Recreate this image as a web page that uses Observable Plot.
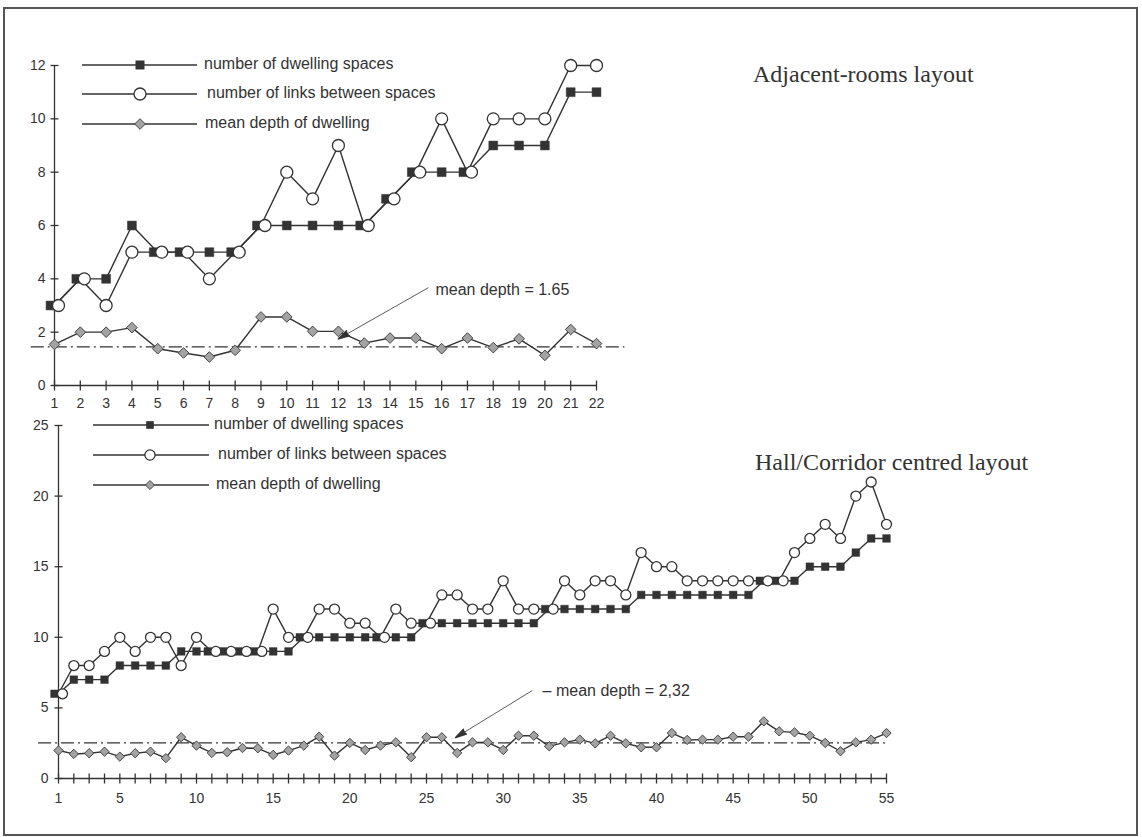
<!DOCTYPE html>
<html>
<head>
<meta charset="utf-8">
<script src="https://cdn.jsdelivr.net/npm/d3@7"></script>
<script src="https://cdn.jsdelivr.net/npm/@observablehq/plot@0.6"></script>
<style>
  body { margin: 0; background: #fff; }
  #page { position: relative; width: 1142px; height: 837px; overflow: hidden;
          font-family: "Liberation Sans", Arial, sans-serif; color: #333; background: #fff; }
  #frame { position: absolute; left: 3px; top: 7px; width: 1135px; height: 829px;
           box-sizing: border-box; border: 2px solid #555; }
  .plot { position: absolute; left: 0; }
  .title { position: absolute; font-family: "Liberation Serif", "Times New Roman", serif;
           font-size: 24px; line-height: 28px; color: #333; white-space: nowrap; }
  .lg { position: absolute; height: 20px; }
  .lgtext { position: absolute; font-size: 16px; line-height: 20px; white-space: nowrap; color: #333; }
</style>
</head>
<body>
<div id="page">
  <div id="frame"></div>
</div>
<script>
// ---------------- data ----------------
const topHouse = [1,2,3,4,5,6,7,8,9,10,11,12,13,14,15,16,17,18,19,20,21,22];
const topSpaces = [3,4,4,6,5,5,5,5,6,6,6,6,6,7,8,8,8,9,9,9,11,11];
const topLinks  = [3,4,3,5,5,5,4,5,6,8,7,9,6,7,8,10,8,10,10,10,12,12];
const topDepth  = [1.54,2.0,2.0,2.17,1.38,1.22,1.07,1.32,2.57,2.57,2.03,2.03,1.59,1.78,1.78,1.38,1.78,1.42,1.75,1.13,2.1,1.57];
const topMeanLine = 1.45;
const topYTicks = [0,2,4,6,8,10,12];
const topXLabels = topHouse;

const botHouse = [1,2,3,4,5,6,7,8,9,10,11,12,13,14,15,16,17,18,19,20,21,22,23,24,25,26,27,28,29,30,
                  31,32,33,34,35,36,37,38,39,40,41,42,43,44,45,46,47,48,49,50,51,52,53,54,55];
const botSpaces = [6,7,7,7,8,8,8,8,9,9,9,9,9,9,9,9,10,10,10,10,10,10,10,10,11,11,11,11,11,11,
                   11,11,12,12,12,12,12,12,13,13,13,13,13,13,13,13,14,14,14,15,15,15,16,17,17];
const botLinks  = [6,8,8,9,10,9,10,10,8,10,9,9,9,9,12,10,10,12,12,11,11,10,12,11,11,13,13,12,12,14,
                   12,12,12,14,13,14,14,13,16,15,15,14,14,14,14,14,14,14,16,17,18,17,20,21,18];
const botDepth  = [1.98,1.74,1.79,1.9,1.55,1.79,1.9,1.44,2.92,2.33,1.81,1.86,2.16,2.14,1.67,1.98,2.33,2.96,1.62,2.52,
                   2.02,2.33,2.56,1.51,2.92,2.92,1.81,2.56,2.56,2.02,3.03,3.03,2.28,2.56,2.75,2.49,3.03,2.49,2.21,2.21,
                   3.22,2.73,2.75,2.75,2.96,2.96,4.05,3.34,3.27,3.03,2.52,1.93,2.56,2.75,3.22];
const botMeanLine = 2.53;
const botYTicks = [0,5,10,15,20,25];
const botXLabels = [1,5,10,15,20,25,30,35,40,45,50,55];

const legendLabels = ["number of dwelling spaces", "number of links between spaces", "mean depth of dwelling"];
const titles = ["Adjacent-rooms layout", "Hall/Corridor centred layout"];

// annotations (arrow from label to the mean line)
const topNote = [{label: "mean depth = 1.65", tx: 15.76, ty: 3.6, x1: 15.49, y1: 3.67, x2: 12.0, y2: 1.75, rot: 240}];
const botNote = [{label: "– mean depth = 2,32", tx: 32.57, ty: 6.23, x1: 31.9, y1: 6.23, x2: 26.9, y2: 2.9, rot: 238}];

// ---------------- drawing ----------------
const ink = "#333";
const vline = {draw(ctx, size) { const r = Math.sqrt(size / Math.PI); ctx.moveTo(0, -r); ctx.lineTo(0, r); }};
const hline = {draw(ctx, size) { const r = Math.sqrt(size / Math.PI); ctx.moveTo(-r, 0); ctx.lineTo(r, 0); }};

function chart(c) {
  const data = c.house.map((x, i) => ({x, spaces: c.spaces[i], links: c.links[i], depth: c.depth[i]}));
  const same = data.filter(d => d.spaces === d.links);
  const diff = data.filter(d => d.spaces !== d.links);
  const last = c.house[c.house.length - 1];
  return Plot.plot({
    width: c.width, height: c.height,
    marginLeft: c.ml, marginRight: c.mr, marginTop: c.mt, marginBottom: c.mb,
    style: {fontFamily: '"Liberation Sans", Arial, sans-serif', fontSize: "14px", color: ink,
            background: "transparent", overflow: "visible"},
    x: {domain: [1, last], ticks: c.xLabels, tickSize: 0, tickPadding: c.xPad, label: null},
    y: {domain: [0, c.yTicks[c.yTicks.length - 1]], ticks: c.yTicks, tickSize: 0, tickPadding: c.yPad, label: null},
    marks: [
      Plot.ruleY([c.mean], {x1: c.meanX[0], x2: c.meanX[1], stroke: ink, strokeWidth: 1.3, strokeDasharray: "13,4,2,4"}),
      Plot.ruleX([1], {y1: 0, y2: c.yTicks[c.yTicks.length - 1], stroke: ink, strokeWidth: 1.3}),
      Plot.ruleY([0], {x1: 1, x2: last, stroke: ink, strokeWidth: 1.3}),
      Plot.dot(c.house, {x: d => d, y: 0, symbol: vline, r: 5, stroke: ink, fill: "none", strokeWidth: 1.3}),
      Plot.dot(c.yTicks, {x: 1, y: d => d, symbol: hline, r: 4, stroke: ink, fill: "none", strokeWidth: 1.3}),
      Plot.link(c.note, {x1: "x1", y1: "y1", x2: "x2", y2: "y2", stroke: ink, strokeWidth: 0.8}),
      Plot.vector(c.note, {x: "x2", y: "y2", rotate: "rot", length: 11, anchor: "end", shape: "spike", r: 2.8, fill: ink, stroke: ink}),
      Plot.text(c.note, {x: "tx", y: "ty", text: "label", textAnchor: "start", fontSize: 16, fill: ink}),
      Plot.line(data, {x: "x", y: "depth", stroke: ink, strokeWidth: 1.4}),
      Plot.line(data, {x: "x", y: "spaces", stroke: ink, strokeWidth: 1.4}),
      Plot.line(data, {x: "x", y: "links", stroke: ink, strokeWidth: 1.4}),
      Plot.dot(data, {x: "x", y: "depth", symbol: "diamond2", r: c.rd, fill: "#a3a3a3", stroke: "#444", strokeWidth: 1}),
      Plot.dot(diff, {x: "x", y: "spaces", symbol: "square", r: c.rs, fill: ink, stroke: ink, strokeWidth: 0.5}),
      Plot.dot(same, {x: "x", y: "spaces", symbol: "square", r: c.rs, fill: ink, stroke: ink, strokeWidth: 0.5, dx: -c.off}),
      Plot.dot(diff, {x: "x", y: "links", symbol: "circle", r: c.rc, fill: "white", stroke: ink, strokeWidth: 1.3}),
      Plot.dot(same, {x: "x", y: "links", symbol: "circle", r: c.rc, fill: "white", stroke: ink, strokeWidth: 1.3, dx: c.off})
    ]
  });
}

const page = document.getElementById("page");

const top1 = chart({
  house: topHouse, spaces: topSpaces, links: topLinks, depth: topDepth, mean: topMeanLine,
  meanX: [0.1, 23.1], yTicks: topYTicks, xLabels: topXLabels, note: topNote,
  width: 640, height: 420, ml: 54, mr: 44, mt: 65, mb: 35, xPad: 13, yPad: 9,
  rs: 5, rc: 6, rd: 4.8, off: 4
});
top1.classList.add("plot");
top1.style.top = "0px";
page.appendChild(top1);

const bot1 = chart({
  house: botHouse, spaces: botSpaces, links: botLinks, depth: botDepth, mean: botMeanLine,
  meanX: [-0.3, 55.15], yTicks: botYTicks, xLabels: botXLabels, note: botNote,
  width: 920, height: 420, ml: 58, mr: 34, mt: 25, mb: 42, xPad: 15, yPad: 10,
  rs: 4.3, rc: 5, rd: 4.2, off: 4
});
bot1.classList.add("plot");
bot1.style.top = "400px";
page.appendChild(bot1);

// titles
function addTitle(text, left, top) {
  const d = document.createElement("div");
  d.className = "title"; d.textContent = text;
  d.style.left = left + "px"; d.style.top = top + "px";
  page.appendChild(d);
}
addTitle(titles[0], 753, 60);
addTitle(titles[1], 755, 448);

// legends
function marker(kind, cx, s) {
  if (kind === 0) return `<rect x="${cx - 4.5 * s}" y="${10 - 4.5 * s}" width="${9 * s}" height="${9 * s}" fill="${ink}"/>`;
  if (kind === 1) return `<circle cx="${cx}" cy="10" r="${6 * s}" fill="white" stroke="${ink}" stroke-width="1.3"/>`;
  const h = 5.3 * s;
  return `<polygon points="${cx},${10 - h} ${cx + h},10 ${cx},${10 + h} ${cx - h},10" fill="#a3a3a3" stroke="#444" stroke-width="1"/>`;
}
function addLegend(rows, x0, x1, mx, s) {
  rows.forEach((r, i) => {
    const d = document.createElement("div");
    d.className = "lg";
    d.style.left = x0 + "px"; d.style.top = (r.y - 10) + "px";
    d.innerHTML = `<svg width="${x1 - x0 + 10}" height="20" style="overflow:visible">
      <line x1="0" y1="10" x2="${x1 - x0}" y2="10" stroke="${ink}" stroke-width="1.4"/>
      ${marker(i, mx - x0, s)}</svg>`;
    page.appendChild(d);
    const t = document.createElement("div");
    t.className = "lgtext"; t.textContent = legendLabels[i];
    t.style.left = r.tx + "px"; t.style.top = (r.y - 11) + "px";
    page.appendChild(t);
  });
}
addLegend([{y: 65, tx: 204}, {y: 94, tx: 207}, {y: 124, tx: 205}], 82, 197, 140, 1);
addLegend([{y: 425, tx: 214}, {y: 455, tx: 218}, {y: 485, tx: 216}], 93, 209, 150, 0.85);
</script>
</body>
</html>
